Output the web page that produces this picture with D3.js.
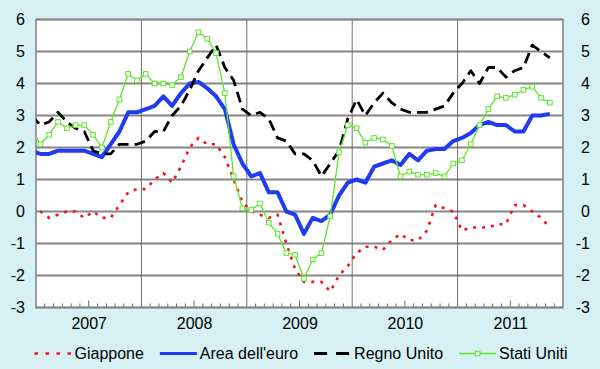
<!DOCTYPE html>
<html>
<head>
<meta charset="utf-8">
<script src="https://cdn.jsdelivr.net/npm/d3@7"></script>
<style>
  body { margin: 0; background: #d6f0f3; }
  svg { display: block; font-family: "Liberation Sans", Arial, Helvetica, sans-serif; }
</style>
</head>
<body>
<svg id="chart" width="600" height="369"></svg>
<script>
// Annual inflation, monthly values Dec 2006 .. Nov 2011
var years = ['2007', '2008', '2009', '2010', '2011'];
var yTicks = [-3, -2, -1, 0, 1, 2, 3, 4, 5, 6];
var firstMonth = -1; // months counted from Jan 2007, so -1 is Dec 2006

var giappone = [0.1,
  0.0, -0.2, -0.1, 0.0, 0.0, -0.2, 0.0, -0.2, -0.2, 0.2, 0.6, 0.7,
  0.7, 1.0, 1.2, 0.9, 1.4, 2.0, 2.3, 2.1, 2.1, 1.7, 1.0, 0.3,
  0.0, -0.1, -0.2, -0.1, -1.0, -1.8, -2.2, -2.2, -2.2, -2.5, -2.0, -1.7,
  -1.3, -1.1, -1.1, -1.2, -0.9, -0.7, -0.9, -0.9, -0.6, 0.2, 0.1, 0.0,
  -0.6, -0.5, -0.5, -0.5, -0.4, -0.4, 0.2, 0.2, 0.0, -0.2, -0.5];

var areaEuro = [1.9,
  1.8, 1.8, 1.9, 1.9, 1.9, 1.9, 1.8, 1.7, 2.1, 2.5, 3.1, 3.1,
  3.2, 3.3, 3.6, 3.3, 3.7, 4.0, 4.05, 3.85, 3.6, 3.2, 2.1, 1.5,
  1.1, 1.2, 0.6, 0.6, 0.0, -0.1, -0.7, -0.2, -0.3, -0.1, 0.5, 0.9,
  1.0, 0.9, 1.4, 1.5, 1.6, 1.45, 1.8, 1.6, 1.9, 1.95, 1.95, 2.2,
  2.3, 2.45, 2.7, 2.8, 2.7, 2.7, 2.5, 2.5, 3.0, 3.0, 3.05];

var regnoUnito = [3.0,
  2.7, 2.8, 3.1, 2.8, 2.6, 2.5, 1.9, 1.8, 1.8, 2.1, 2.1, 2.1,
  2.2, 2.5, 2.5, 3.0, 3.3, 3.8, 4.4, 4.8, 5.2, 4.5, 4.1, 3.2,
  3.0, 3.1, 2.9, 2.3, 2.2, 1.8, 1.8, 1.6, 1.1, 1.5, 1.9, 2.9,
  3.5, 3.0, 3.4, 3.7, 3.4, 3.2, 3.1, 3.1, 3.1, 3.2, 3.3, 3.7,
  4.0, 4.4, 4.0, 4.5, 4.5, 4.2, 4.4, 4.5, 5.2, 5.0, 4.8];

var statiUniti = [2.6,
  2.1, 2.4, 2.8, 2.6, 2.7, 2.7, 2.4, 2.0, 2.8, 3.5, 4.3, 4.1,
  4.3, 4.0, 4.0, 3.95, 4.2, 5.0, 5.6, 5.4, 4.95, 3.7, 1.1, 0.1,
  0.05, 0.25, -0.35, -0.7, -1.3, -1.35, -2.1, -1.5, -1.3, -0.15, 1.85, 2.7,
  2.6, 2.15, 2.3, 2.25, 2.05, 1.1, 1.25, 1.15, 1.15, 1.2, 1.1, 1.5,
  1.6, 2.1, 2.7, 3.2, 3.6, 3.55, 3.65, 3.8, 3.9, 3.55, 3.4];

var series = [
  { name: 'Giappone', values: giappone, color: '#f2141e', width: 2.6, dash: '3,6', legendDash: '3.5,7.5' },
  { name: "Area dell'euro", values: areaEuro, color: '#1f3cf2', width: 4, dash: null, legendDash: null },
  { name: 'Regno Unito', values: regnoUnito, color: '#000000', width: 2.8, dash: '11,6', legendDash: '13,9' },
  { name: 'Stati Uniti', values: statiUniti, color: '#5ee62c', width: 1.3, dash: null, legendDash: null, markers: true }
];

var plot = { left: 36, right: 563, top: 19.5, bottom: 307.5 };
var gridColor = '#858585';

var svg = d3.select('#chart');

var x = d3.scaleLinear().domain([0, years.length * 12]).range([plot.left, plot.right]);
var y = d3.scaleLinear().domain([-3, 6]).range([plot.bottom, plot.top]);

svg.append('defs').append('clipPath')
    .attr('id', 'plot-clip')
  .append('rect')
    .attr('x', plot.left)
    .attr('y', plot.top)
    .attr('width', plot.right - plot.left)
    .attr('height', plot.bottom - plot.top);

svg.append('rect')
    .attr('x', plot.left)
    .attr('y', plot.top)
    .attr('width', plot.right - plot.left)
    .attr('height', plot.bottom - plot.top)
    .attr('fill', '#ffffff');

// horizontal grid
svg.append('g')
  .selectAll('line')
    .data(yTicks)
  .enter().append('line')
    .attr('x1', plot.left)
    .attr('x2', plot.right)
    .attr('y1', function(d) { return y(d); })
    .attr('y2', function(d) { return y(d); })
    .attr('stroke', gridColor)
    .attr('stroke-width', 1.8);

// year separators
svg.append('g')
  .selectAll('line')
    .data(d3.range(1, years.length))
  .enter().append('line')
    .attr('x1', function(d) { return x(d * 12); })
    .attr('x2', function(d) { return x(d * 12); })
    .attr('y1', plot.top)
    .attr('y2', plot.bottom)
    .attr('stroke', '#6e6e6e')
    .attr('stroke-width', 1);

// monthly ticks on the bottom edge, longer at mid-year
svg.append('g')
  .selectAll('line')
    .data(d3.range(1, years.length * 12).filter(function(m) { return m % 12 !== 0; }))
  .enter().append('line')
    .attr('x1', function(d) { return x(d); })
    .attr('x2', function(d) { return x(d); })
    .attr('y1', plot.bottom)
    .attr('y2', function(d) { return plot.bottom - (d % 12 === 6 ? 7 : 4); })
    .attr('stroke', '#6e6e6e')
    .attr('stroke-width', 1);

svg.append('rect')
    .attr('x', plot.left)
    .attr('y', plot.top)
    .attr('width', plot.right - plot.left)
    .attr('height', plot.bottom - plot.top)
    .attr('fill', 'none')
    .attr('stroke', gridColor)
    .attr('stroke-width', 1.6);

// y labels on both sides
var yLeft = d3.axisLeft(y).tickValues(yTicks).tickSize(0).tickPadding(0);
var yRight = d3.axisRight(y).tickValues(yTicks).tickSize(0).tickPadding(0);

svg.append('g')
    .attr('transform', 'translate(25,0)')
    .call(yLeft)
    .call(styleAxis);

svg.append('g')
    .attr('transform', 'translate(575,0)')
    .call(yRight)
    .call(styleAxis);

function styleAxis(g) {
  g.select('.domain').remove();
  g.attr('font-family', null).attr('font-size', null);
  g.selectAll('text')
      .attr('font-size', 16)
      .attr('fill', '#000')
      .text(function(d) { return d < 0 ? '-' + Math.abs(d) : d; });
}
svg.selectAll('g').filter(function() { return this.getAttribute('transform') === 'translate(575,0)'; })
  .selectAll('text')
    .attr('x', 15)
    .attr('text-anchor', 'end');

// year labels
var xAxis = d3.axisBottom(x)
    .tickValues(years.map(function(d, i) { return i * 12 + 6; }))
    .tickFormat(function(d) { return years[(d - 6) / 12]; })
    .tickSize(0)
    .tickPadding(10);

svg.append('g')
    .attr('transform', 'translate(0,' + plot.bottom + ')')
    .call(xAxis)
    .call(function(g) {
      g.select('.domain').remove();
      g.attr('font-family', null).attr('font-size', null);
      g.selectAll('text').attr('font-size', 16).attr('fill', '#000');
    });

// series
var lines = svg.append('g').attr('clip-path', 'url(#plot-clip)');

series.forEach(function(s) {
  var pts = s.values.map(function(v, i) { return { m: firstMonth + i + 0.5, v: v }; });
  var line = d3.line()
      .x(function(d) { return x(d.m); })
      .y(function(d) { return y(d.v); });

  lines.append('path')
      .datum(pts)
      .attr('d', line)
      .attr('fill', 'none')
      .attr('stroke', s.color)
      .attr('stroke-width', s.width)
      .attr('stroke-linejoin', 'round')
      .attr('stroke-dasharray', s.dash);

  if (s.markers) {
    lines.selectAll(null)
        .data(pts)
      .enter().append('rect')
        .attr('x', function(d) { return x(d.m) - 2.3; })
        .attr('y', function(d) { return y(d.v) - 2.3; })
        .attr('width', 4.6)
        .attr('height', 4.6)
        .attr('fill', '#ffffff')
        .attr('stroke', s.color)
        .attr('stroke-width', 1);
  }
});

// legend, centered under the chart
var legendY = 353.5;
var swatch = 37, textGap = 3, itemGap = 16;
var legend = svg.append('g');

var items = legend.selectAll('g')
    .data(series)
  .enter().append('g');

items.append('text')
    .attr('x', swatch + textGap)
    .attr('y', legendY)
    .attr('dy', '0.35em')
    .attr('font-size', 16)
    .attr('fill', '#000')
    .text(function(d) { return d.name; });

items.append('line')
    .attr('x1', 0)
    .attr('x2', swatch)
    .attr('y1', legendY)
    .attr('y2', legendY)
    .attr('stroke', function(d) { return d.color; })
    .attr('stroke-width', function(d) { return Math.min(d.width, 3); })
    .attr('stroke-dasharray', function(d) { return d.legendDash; });

items.filter(function(d) { return d.markers; }).append('rect')
    .attr('x', swatch / 2 - 2.3)
    .attr('y', legendY - 2.3)
    .attr('width', 4.6)
    .attr('height', 4.6)
    .attr('fill', '#ffffff')
    .attr('stroke', function(d) { return d.color; });

var offsets = [], total = 0;
items.each(function() {
  var w = swatch + textGap + d3.select(this).select('text').node().getComputedTextLength();
  offsets.push(total);
  total += w + itemGap;
});
total -= itemGap;
var startX = 301 - total / 2;
items.attr('transform', function(d, i) { return 'translate(' + (startX + offsets[i]) + ',0)'; });
</script>
</body>
</html>
